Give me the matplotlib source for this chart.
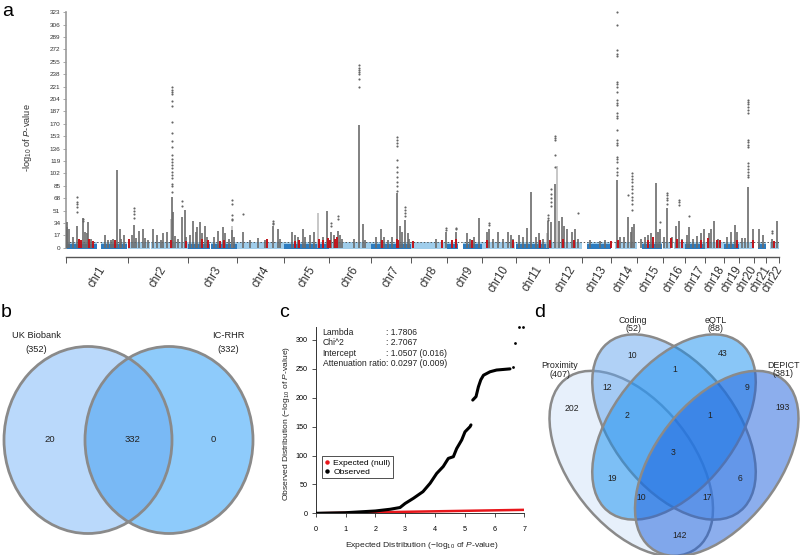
import numpy as np
import matplotlib
matplotlib.use('Agg')
import matplotlib.pyplot as plt
from matplotlib.patches import Ellipse
from matplotlib.lines import Line2D

plt.rcParams['font.family'] = ['Liberation Sans', 'DejaVu Sans']
plt.rcParams['mathtext.fontset'] = 'custom'
plt.rcParams['mathtext.rm'] = 'Liberation Sans'
plt.rcParams['mathtext.it'] = 'Liberation Sans:italic'
plt.rcParams['mathtext.sf'] = 'Liberation Sans'

# ---------------- data: panel a (Manhattan) ----------------
chrom_names = ['chr%d' % i for i in range(1, 23)]
chrom_len = [249, 243, 198, 191, 181, 171, 159, 146, 141, 136, 135, 134,
             115, 107, 102, 90, 81, 78, 59, 63, 48, 51]

# regions without SNPs (chromosome, start Mb, end Mb)
gap_chr = [1, 2, 3, 9, 13, 14, 15, 16, 21, 22]
gap_start = [124, 92, 90, 44, 0, 0, 0, 36, 0, 0]
gap_end = [142, 95, 94, 66, 19, 19, 20, 46, 14, 16]

# grey association towers, one list per chromosome (Mb, -log10 P)
peak_pos = [
    [3, 6, 12, 27, 43, 52, 67, 75, 84, 89, 101, 157, 169, 182, 190, 205, 216, 222, 236],
    [16, 27, 34, 46, 60, 70, 82, 101, 117, 134, 144, 159, 178, 184, 191, 203, 218, 231, 237],
    [8, 22, 31, 37, 49, 57, 69, 77, 105, 123, 140, 150, 166, 177, 186],
    [23, 53, 84, 113, 147, 167, 174],
    [30, 44, 54, 77, 84, 104, 122, 157, 172],
    [8, 20, 35, 44, 52, 101, 122, 135, 146],
    [19, 39, 51, 67, 83, 102, 116, 124, 136, 146, 152],
    [103, 143],
    [35, 80, 93, 109, 130],
    [19, 30, 45, 66, 85, 107, 116, 125],
    [15, 30, 45, 61, 82, 94, 111, 130],
    [6, 24, 40, 53, 62, 73, 93, 106, 115],
    [31, 72, 92],
    [24, 38, 54, 71, 80, 87, 94],
    [15, 31, 44, 56, 75, 84, 93],
    [6, 17, 38, 55, 67, 79],
    [7, 17, 33, 49, 65, 77],
    [17, 26, 37, 53],
    [11, 27, 44, 52],
    [12, 26, 38, 57],
    [20, 36],
    [23, 42],
]
peak_top = [
    [35, 28, 25, 15, 30, 12, 41, 22, 20, 35, 12, 17, 10, 10, 12, 106, 25, 12, 17],
    [17, 31, 13, 23, 25, 13, 10, 25, 17, 10, 20, 21, 70, 49, 16, 12, 42, 52, 14],
    [18, 36, 22, 28, 35, 20, 30, 14, 15, 23, 28, 20, 12, 24, 14],
    [21, 10, 13, 10, 30, 25, 12],
    [21, 18, 14, 25, 14, 18, 22, 15, 51],
    [21, 18, 23, 18, 12, 12, 168, 33, 10],
    [15, 26, 15, 10, 14, 75, 30, 22, 38, 20, 12],
    [12, 21],
    [22, 20, 12, 14, 41],
    [21, 25, 12, 22, 12, 22, 18, 12],
    [18, 15, 27, 77, 15, 20, 12, 36],
    [35, 88, 36, 42, 30, 25, 22, 25, 12],
    [10, 9, 10],
    [93, 14, 14, 42, 22, 28, 32],
    [12, 14, 18, 20, 89, 22, 25],
    [14, 55, 14, 30, 36, 12],
    [18, 28, 12, 16, 20, 25],
    [20, 25, 37, 12],
    [15, 22, 31, 22],
    [13, 13, 83, 25],
    [25, 18],
    [12, 36],
]

# light grey towers
light_chr = [2, 3, 5, 11, 12]
light_pos = [176, 180, 138, 128, 30]
light_top = [40, 30, 48, 20, 112]

# red (novel) marks, one list per chromosome
red_pos = [[52, 59, 94, 110, 198], [6, 175, 235], [58, 82, 130, 146], [123],
           [44, 60, 140, 157, 176], [4, 24, 32], [44, 102, 106], [9, 125],
           [19, 36, 100], [19, 127], [99], [4, 55, 101], [114], [31], [45, 64],
           [33, 60, 77], [65], [14, 50, 61], [53], [56], [], [29]]
red_top = [[12, 10, 12, 9, 10], [12, 10, 9], [12, 10, 9, 11], [12],
           [9, 10, 12, 11, 13], [10, 12, 14], [11, 12, 10], [9, 10],
           [10, 12, 10], [11, 10], [11], [10, 12, 10], [9], [10], [10, 14],
           [13, 12, 10], [10], [13, 10, 10], [10], [10], [], [9]]

# isolated SNPs above the towers
hit_chr = [1, 1, 2, 2, 2, 3, 4, 4, 6, 6, 6, 7, 7, 8, 9, 10, 11, 12, 12, 12,
           14, 14, 14, 15, 16, 16, 17, 20, 22]
hit_pos = [43, 67, 27, 178, 218, 177, 23, 147, 8, 35, 122, 102, 136, 143, 35,
           30, 130, 6, 24, 115, 24, 71, 87, 93, 17, 67, 17, 38, 23]
hit_vals = [
    [70, 63, 60, 56, 49], [40, 37], [54, 50, 46, 41],
    [220, 216, 214, 211, 201, 194, 173, 157, 146, 138, 127, 122, 118, 113,
     109, 104, 100, 95, 88, 84, 77],
    [64, 57], [66, 60, 45, 40, 38], [46], [36, 34, 32], [34, 30], [44, 40],
    [250, 247, 244, 241, 238, 231, 220],
    [152, 148, 144, 140, 120, 111, 104, 97, 90, 84, 78],
    [56, 52, 48, 44], [27, 24], [27, 25], [34, 31], [45, 41, 38],
    [80, 74, 68, 62, 57], [153, 150, 148, 127, 111], [47],
    [323, 306, 271, 266, 263, 228, 224, 220, 214, 203, 199, 196, 185, 181,
     178, 161, 148, 144, 141, 124, 121, 118, 110, 104, 100],
    [72], [102, 98, 94, 90, 85, 80, 75, 70, 65, 60, 52], [35],
    [75, 72, 68, 65, 60], [66, 62, 58], [44],
    [203, 200, 197, 193, 189, 185, 148, 145, 141, 138, 116, 112, 108, 104, 100, 97],
    [23, 20],
]
gw_threshold = 7.3

# ---------------- data: panel b ----------------
b_sets = ['UK Biobank', 'IC-RHR']
b_totals = [352, 332]
b_counts = [20, 332, 0]

# ---------------- data: panel c (QQ) ----------------
qq_exp = [0, 1, 2, 2.5, 2.83, 3.0, 3.28, 3.6, 3.84, 4.06, 4.28, 4.45, 4.62, 4.73,
          4.9, 5.01, 5.18, 5.21, np.nan, 5.27, 5.38, 5.46, 5.54, 5.63, 5.85,
          6.07, 6.52]
qq_obs = [0, 1, 4, 7, 10, 17, 26, 37.5, 52, 69, 81, 95, 98, 112, 127, 141, 150,
          153, np.nan, 196, 202, 219, 231, 239, 245, 248, 250]
qq_out_exp = [6.61, 6.69, 6.83, 6.97]
qq_out_obs = [254, 295, 322, 322]
null_exp = [0, 7]
null_obs = [0, 6]
stat_names = ['Lambda', 'Chi^2', 'Intercept', 'Attenuation ratio']
stat_values = [': 1.7806', ': 2.7067', ': 1.0507 (0.016)', ': 0.0297 (0.009)']

# ---------------- data: panel d ----------------
d_sets = ['Proximity', 'Coding', 'eQTL', 'DEPICT']
d_totals = [407, 52, 88, 381]
d_counts = [10, 43, 1, 12, 9, 202, 193, 2, 1, 3, 19, 6, 10, 17, 142]

# ---------------- figure ----------------
W, H = 800, 555
fig = plt.figure(figsize=(8, 5.55), dpi=100)


def frame(x0, y0, x1, y1):
    return [x0 / W, 1 - y1 / H, (x1 - x0) / W, (y1 - y0) / H]


def ftext(x, y, s, **kw):
    fig.text(x / W, 1 - y / H, s, **kw)


# ---- panel a ----
ax = fig.add_axes(frame(66, 12.3, 779, 257))
chrom_start = np.concatenate([[0], np.cumsum(chrom_len)[:-1]])
genome_len = float(np.sum(chrom_len))
ax.set_xlim(0, genome_len)
ax.set_ylim(-12.8, 323)

dark_blue, light_blue = '#2c7cc0', '#9fcdeb'
for i, L in enumerate(chrom_len):
    cuts = sorted((s, e) for c, s, e in zip(gap_chr, gap_start, gap_end) if c == i + 1)
    segs, a0 = [], 0
    for s, e in cuts:
        if s > a0:
            segs.append((a0, s))
        a0 = e
    segs.append((a0, L - 1))
    for s, e in segs:
        x0 = chrom_start[i] + s
        if i % 2 == 0:
            ax.bar(x0, 7.0, width=e - s, bottom=-1.5, align='edge', color=dark_blue, lw=0, zorder=1)
            ax.bar(x0, 2.5, width=e - s, bottom=5.0, align='edge', color=light_blue, lw=0, zorder=1)
        else:
            ax.bar(x0, 9.0, width=e - s, bottom=-1.5, align='edge', color=light_blue, lw=0, zorder=1)

ax.axhline(gw_threshold, color='#555555', lw=0.7, ls=(0, (1.5, 2)), zorder=2)

for i in range(22):
    xs = chrom_start[i] + np.array(peak_pos[i], dtype=float)
    ax.vlines(xs, 0, peak_top[i], color='#6b6b6b', lw=1.2, zorder=3)
    rx = chrom_start[i] + np.array(red_pos[i], dtype=float)
    if len(rx):
        ax.vlines(rx, 0, red_top[i], color='#c0141c', lw=1.4, zorder=4)

lx = [chrom_start[c - 1] + p for c, p in zip(light_chr, light_pos)]
ax.vlines(lx, 0, light_top, color='#b8b8b8', lw=1.1, zorder=2.5)

for c, p, vals in zip(hit_chr, hit_pos, hit_vals):
    ax.scatter([chrom_start[c - 1] + p] * len(vals), vals, s=2.4, color='#666666',
               lw=0, zorder=3, clip_on=False)

for sp in ['top', 'right']:
    ax.spines[sp].set_visible(False)
ax.spines['left'].set_bounds(0, 323)
ax.spines['left'].set_color('#9a9a9a')
ax.spines['left'].set_linewidth(1.2)
ax.spines['bottom'].set_bounds(0, genome_len)
ax.spines['bottom'].set_color('#555555')
ax.spines['bottom'].set_linewidth(1.0)
ax.set_yticks(np.arange(0, 324, 17))
ax.tick_params(axis='y', labelsize=4.6, length=2.5, width=0.6, color='#9a9a9a',
               pad=1.5, labelcolor='#333333')
bounds = np.concatenate([chrom_start, [genome_len]])
mids = chrom_start + np.array(chrom_len) / 2.0
ax.set_xticks(bounds)
ax.set_xticklabels([])
ax.set_xticks(mids, minor=True)
ax.set_xticklabels(chrom_names, minor=True, rotation=58, ha='center', va='top',
                   fontsize=8.3, color='#333333')
ax.tick_params(axis='x', which='major', length=4, width=0.7, color='#555555')
ax.tick_params(axis='x', which='minor', length=0, pad=5)

ftext(27, 138, r'-log$_{10}$ of $P$-value', rotation=90, ha='center', va='center',
      fontsize=6.7, color='#333333')
ftext(2, 16, 'a', fontsize=14, va='baseline')

# ---- panel b ----
axb = fig.add_axes(frame(0, 290, 270, 555))
axb.set_xlim(0, 270)
axb.set_ylim(555, 290)
axb.axis('off')
e_left = Ellipse((88, 440), 168, 187, fc='#bad9fb', ec='none', zorder=1)
e_right = Ellipse((169, 440), 168, 187, fc='#8ecbfb', ec='none', zorder=1)
axb.add_patch(e_left)
axb.add_patch(e_right)
e_mid = Ellipse((88, 440), 168, 187, fc='#79b9f5', ec='none', zorder=2)
axb.add_patch(e_mid)
e_mid.set_clip_path(e_right)
for cx in (88, 169):
    axb.add_patch(Ellipse((cx, 440), 168, 187, fc='none', ec='#8a8a8a', lw=2, zorder=3))
for name, tot, x in zip(b_sets, b_totals, (36, 228)):
    axb.text(x, 335, name, ha='center', va='center', fontsize=6.7, color='#222222')
    axb.text(x, 349, '(%d)' % tot, ha='center', va='center', fontsize=6.7, color='#222222')
for n, x in zip(b_counts, (50, 132.5, 213.5)):
    axb.text(x, 440, str(n), ha='center', va='center', fontsize=6.8, color='#222222')
ftext(1, 317, 'b', fontsize=14, va='baseline')

# ---- panel c ----
axc = fig.add_axes(frame(315.7, 326.7, 524.3, 513.3))
axc.set_xlim(0, 7)
axc.set_ylim(0, 323)
axc.plot(qq_exp, qq_obs, color='black', lw=2.2, solid_capstyle='round', zorder=3)
axc.scatter(qq_out_exp, qq_out_obs, s=4, color='black', lw=0, zorder=3, clip_on=False)
axc.plot(null_exp, null_obs, color='#e8161b', lw=1.8, zorder=2)
for sp in ['top', 'right']:
    axc.spines[sp].set_visible(False)
for sp in ['left', 'bottom']:
    axc.spines[sp].set_color('#333333')
    axc.spines[sp].set_linewidth(0.7)
axc.set_xticks(range(8))
axc.set_yticks(range(0, 301, 50))
axc.tick_params(labelsize=5.2, length=3, width=0.6, color='#333333')
axc.tick_params(axis='x', pad=6)
axc.tick_params(axis='y', pad=3)
for k, (nm, val) in enumerate(zip(stat_names, stat_values)):
    ftext(322.7, 332.3 + k * 10.5, nm, fontsize=6.2, va='center', color='#222222')
    ftext(386.0, 332.3 + k * 10.5, val, fontsize=6.2, va='center', color='#222222')
handles = [Line2D([], [], ls='none', marker='o', ms=2.2, color='#e8161b'),
           Line2D([], [], ls='none', marker='o', ms=2.2, color='black')]
leg = axc.legend(handles, ['Expected (null)', 'Observed'], loc='lower left',
                 bbox_to_anchor=(0.032, 0.1875), borderaxespad=0, fontsize=6.1,
                 handlelength=0.6, handletextpad=0.4, labelspacing=0.15,
                 borderpad=0.3, fancybox=False, framealpha=1)
leg.get_frame().set_edgecolor('#333333')
leg.get_frame().set_linewidth(0.6)
ftext(421.7, 545.7, r'Expected Distribution ($-$log$_{10}$ of $P$-value)', ha='center',
      va='center', fontsize=6.1, color='#222222')
ftext(286.7, 423, r'Observed Distribution ($-$log$_{10}$ of $P$-value)', ha='center',
      va='center', rotation=90, fontsize=6.1, color='#222222')
ftext(279, 317, 'c', fontsize=14, va='baseline')

# ---- panel d ----
def u_of(px):
    return 0.5 + (px - 674) / 285.0


def v_of(py):
    return 0.57 - (py - 427) / 323.0


axd = fig.add_axes(frame(530, 290, 800, 555))
axd.set_xlim(u_of(530), u_of(800))
axd.set_ylim(v_of(555), v_of(290))
axd.axis('off')
d_cx = [0.35, 0.5, 0.5, 0.65]
d_cy = [0.457, 0.57, 0.57, 0.457]
d_ang = [-45, -45, 45, 45]
d_fill = ['#d1e3f9', '#63a5ef', '#158ff1', '#1a5fdd']
for cx, cy, ang, fc in zip(d_cx, d_cy, d_ang, d_fill):
    axd.add_patch(Ellipse((cx, cy), 0.70, 0.41, angle=ang, clip_on=False,
                          fc=matplotlib.colors.to_rgba(fc, 0.5), ec='#8a8a8a', lw=1.8))
count_px = [(632.3, 356), (722.3, 354), (675, 370), (607.7, 387.3), (746.7, 387.3),
            (572.3, 408.3), (782.3, 407.7), (627.3, 415.7), (710, 415.7), (673.3, 452.3),
            (611.7, 478.7), (740, 478.7), (641.7, 498), (706.7, 498), (680, 535)]
for n, (x, y) in zip(d_counts, count_px):
    ftext(x, y, str(n), ha='center', va='center', fontsize=6.2, color='#222222')
label_px = [(559.5, 366), (633, 320.5), (716, 320.5), (783, 365)]
for name, tot, (x, y) in zip(d_sets, d_totals, label_px):
    ftext(x, y, name, ha='center', va='center', fontsize=6.4, color='#222222')
    ftext(x, y + 8.3, '(%d)' % tot, ha='center', va='center', fontsize=6.4, color='#222222')
ftext(534, 317, 'd', fontsize=14, va='baseline')

fig.savefig('out.png', dpi=100)
